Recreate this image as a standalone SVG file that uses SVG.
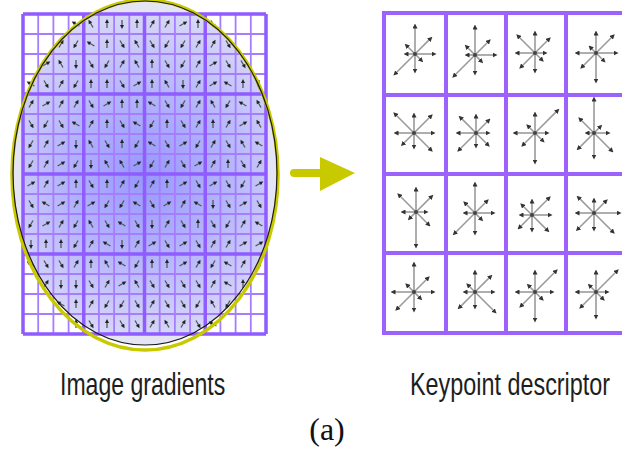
<svg xmlns="http://www.w3.org/2000/svg" xmlns:xlink="http://www.w3.org/1999/xlink" width="622" height="456" viewBox="0 0 622 456">
<style>
.gth{fill:none;stroke:#a77dff;stroke-width:1.8}
.gtk{fill:none;stroke:#8f5cff;stroke-width:3.5}
.rg{fill:none;stroke:#9d62fb;stroke-width:4}
.gs{fill:none;stroke:#555;stroke-width:1.3}
.gh{fill:#222}
.st line{stroke:#9a9a9a;stroke-width:1.6;marker-end:url(#ah)}
.st circle{fill:#444}
.lbl{font-family:"Liberation Sans",Arial,sans-serif;font-size:32px;fill:#1e1e1e}
.cap{font-family:"Liberation Serif","Times New Roman",serif;font-size:32px;fill:#111}
</style>
<defs>
<radialGradient id="rgr" gradientUnits="userSpaceOnUse" cx="145" cy="175" r="160">
<stop offset="0" stop-color="#9797ff"/>
<stop offset="0.5" stop-color="#b3b3fd"/>
<stop offset="1" stop-color="#d6d6f8"/>
</radialGradient>
<clipPath id="ec"><ellipse cx="145" cy="173" rx="132" ry="172"/></clipPath>
<marker id="ah" viewBox="0 0 6 6" refX="3" refY="3" markerWidth="5" markerHeight="5" markerUnits="userSpaceOnUse" orient="auto"><path d="M0,0L6,3L0,6Z" fill="#333"/></marker>
<g id="a0"><path d="M0,4V-2" class="gs"/><path d="M-2,-1L0,-5L2,-1Z" class="gh"/></g>
<g id="a1" transform="rotate(30)"><use href="#a0"/></g>
<g id="a2" transform="rotate(-30)"><use href="#a0"/></g>
<g id="a3" transform="rotate(150)"><use href="#a0"/></g>
<g id="a4" transform="rotate(-150)"><use href="#a0"/></g>
<g id="a5" transform="rotate(60)"><use href="#a0"/></g>
<g id="a6" transform="rotate(-60)"><use href="#a0"/></g>
<g id="a7" transform="rotate(180)"><use href="#a0"/></g>
</defs>
<rect width="622" height="456" fill="#fff"/>

<g id="image-gradients">
<ellipse cx="145" cy="173" rx="132" ry="172" fill="#e4e4f5"/>
<rect x="23" y="14" width="243" height="320" fill="url(#rgr)" clip-path="url(#ec)"/>
<path class="gth" d="M38.2,14V334M53.4,14V334M68.6,14V334M98.9,14V334M114.1,14V334M129.3,14V334M159.7,14V334M174.9,14V334M190.1,14V334M220.4,14V334M235.6,14V334M250.8,14V334M23,34H266M23,54H266M23,74H266M23,114H266M23,134H266M23,154H266M23,194H266M23,214H266M23,234H266M23,274H266M23,294H266M23,314H266"/>
<path class="gtk" d="M23,14V334M83.75,14V334M144.5,14V334M205.25,14V334M266,14V334M23,14H266M23,94H266M23,174H266M23,254H266M23,334H266"/>
<g id="grad-arrows">
<g transform="translate(0,24)"><use href="#a6" x="76"/><use href="#a2" x="91"/><use href="#a0" x="107"/><use href="#a7" x="122"/><use href="#a0" x="137"/><use href="#a1" x="152"/><use href="#a1" x="167"/><use href="#a5" x="183"/><use href="#a0" x="198"/><use href="#a3" x="213"/></g>
<g transform="translate(0,44)"><use href="#a1" x="61"/><use href="#a4" x="76"/><use href="#a6" x="91"/><use href="#a0" x="107"/><use href="#a3" x="122"/><use href="#a2" x="137"/><use href="#a3" x="152"/><use href="#a4" x="167"/><use href="#a4" x="183"/><use href="#a1" x="198"/><use href="#a1" x="213"/><use href="#a3" x="228"/></g>
<g transform="translate(0,64)"><use href="#a5" x="46"/><use href="#a2" x="61"/><use href="#a7" x="76"/><use href="#a3" x="91"/><use href="#a4" x="107"/><use href="#a1" x="122"/><use href="#a2" x="137"/><use href="#a0" x="152"/><use href="#a3" x="167"/><use href="#a4" x="183"/><use href="#a1" x="198"/><use href="#a5" x="213"/><use href="#a3" x="228"/><use href="#a3" x="243"/></g>
<g transform="translate(0,84)"><use href="#a6" x="31"/><use href="#a3" x="46"/><use href="#a1" x="61"/><use href="#a4" x="76"/><use href="#a0" x="91"/><use href="#a0" x="107"/><use href="#a3" x="122"/><use href="#a5" x="137"/><use href="#a0" x="152"/><use href="#a2" x="167"/><use href="#a7" x="183"/><use href="#a1" x="198"/><use href="#a5" x="213"/><use href="#a6" x="228"/><use href="#a0" x="243"/><use href="#a7" x="259"/></g>
<g transform="translate(0,104)"><use href="#a1" x="31"/><use href="#a5" x="46"/><use href="#a1" x="61"/><use href="#a1" x="76"/><use href="#a3" x="91"/><use href="#a5" x="107"/><use href="#a0" x="122"/><use href="#a0" x="137"/><use href="#a6" x="152"/><use href="#a3" x="167"/><use href="#a4" x="183"/><use href="#a1" x="198"/><use href="#a2" x="213"/><use href="#a4" x="228"/><use href="#a6" x="243"/><use href="#a2" x="259"/></g>
<g transform="translate(0,124)"><use href="#a3" x="31"/><use href="#a4" x="46"/><use href="#a3" x="61"/><use href="#a6" x="76"/><use href="#a1" x="91"/><use href="#a0" x="107"/><use href="#a3" x="122"/><use href="#a6" x="137"/><use href="#a4" x="152"/><use href="#a0" x="167"/><use href="#a3" x="183"/><use href="#a1" x="198"/><use href="#a0" x="213"/><use href="#a1" x="228"/><use href="#a5" x="243"/><use href="#a2" x="259"/></g>
<g transform="translate(0,144)"><use href="#a4" x="31"/><use href="#a1" x="46"/><use href="#a5" x="61"/><use href="#a7" x="76"/><use href="#a2" x="91"/><use href="#a3" x="107"/><use href="#a0" x="122"/><use href="#a4" x="137"/><use href="#a6" x="152"/><use href="#a3" x="167"/><use href="#a5" x="183"/><use href="#a4" x="198"/><use href="#a1" x="213"/><use href="#a3" x="228"/><use href="#a2" x="243"/><use href="#a6" x="259"/></g>
<g transform="translate(0,164)"><use href="#a4" x="31"/><use href="#a1" x="46"/><use href="#a5" x="61"/><use href="#a4" x="76"/><use href="#a7" x="91"/><use href="#a2" x="107"/><use href="#a2" x="122"/><use href="#a5" x="137"/><use href="#a4" x="152"/><use href="#a1" x="167"/><use href="#a3" x="183"/><use href="#a5" x="198"/><use href="#a1" x="213"/><use href="#a0" x="228"/><use href="#a3" x="243"/><use href="#a1" x="259"/></g>
<g transform="translate(0,184)"><use href="#a5" x="31"/><use href="#a1" x="46"/><use href="#a5" x="61"/><use href="#a0" x="76"/><use href="#a3" x="91"/><use href="#a0" x="107"/><use href="#a1" x="122"/><use href="#a4" x="137"/><use href="#a1" x="152"/><use href="#a0" x="167"/><use href="#a5" x="183"/><use href="#a3" x="198"/><use href="#a5" x="213"/><use href="#a3" x="228"/><use href="#a4" x="243"/><use href="#a5" x="259"/></g>
<g transform="translate(0,204)"><use href="#a3" x="31"/><use href="#a6" x="46"/><use href="#a5" x="61"/><use href="#a1" x="76"/><use href="#a5" x="91"/><use href="#a4" x="107"/><use href="#a4" x="122"/><use href="#a6" x="137"/><use href="#a3" x="152"/><use href="#a5" x="167"/><use href="#a1" x="183"/><use href="#a6" x="198"/><use href="#a7" x="213"/><use href="#a3" x="228"/><use href="#a5" x="243"/><use href="#a3" x="259"/></g>
<g transform="translate(0,224)"><use href="#a4" x="31"/><use href="#a5" x="46"/><use href="#a1" x="61"/><use href="#a4" x="76"/><use href="#a2" x="91"/><use href="#a3" x="107"/><use href="#a6" x="122"/><use href="#a3" x="137"/><use href="#a7" x="152"/><use href="#a1" x="167"/><use href="#a3" x="183"/><use href="#a0" x="198"/><use href="#a3" x="213"/><use href="#a4" x="228"/><use href="#a1" x="243"/><use href="#a6" x="259"/></g>
<g transform="translate(0,244)"><use href="#a7" x="31"/><use href="#a0" x="46"/><use href="#a0" x="61"/><use href="#a4" x="76"/><use href="#a1" x="91"/><use href="#a6" x="107"/><use href="#a7" x="122"/><use href="#a1" x="137"/><use href="#a5" x="152"/><use href="#a3" x="167"/><use href="#a5" x="183"/><use href="#a3" x="198"/><use href="#a1" x="213"/><use href="#a1" x="228"/><use href="#a5" x="243"/><use href="#a5" x="259"/></g>
<g transform="translate(0,264)"><use href="#a6" x="31"/><use href="#a3" x="46"/><use href="#a3" x="61"/><use href="#a1" x="76"/><use href="#a0" x="91"/><use href="#a2" x="107"/><use href="#a6" x="122"/><use href="#a4" x="137"/><use href="#a0" x="152"/><use href="#a0" x="167"/><use href="#a5" x="183"/><use href="#a1" x="198"/><use href="#a4" x="213"/><use href="#a6" x="228"/><use href="#a1" x="243"/><use href="#a7" x="259"/></g>
<g transform="translate(0,284)"><use href="#a1" x="46"/><use href="#a7" x="61"/><use href="#a7" x="76"/><use href="#a3" x="91"/><use href="#a1" x="107"/><use href="#a5" x="122"/><use href="#a2" x="137"/><use href="#a3" x="152"/><use href="#a3" x="167"/><use href="#a3" x="183"/><use href="#a3" x="198"/><use href="#a1" x="213"/><use href="#a6" x="228"/><use href="#a0" x="243"/></g>
<g transform="translate(0,304)"><use href="#a6" x="61"/><use href="#a0" x="76"/><use href="#a1" x="91"/><use href="#a4" x="107"/><use href="#a4" x="122"/><use href="#a3" x="137"/><use href="#a1" x="152"/><use href="#a3" x="167"/><use href="#a3" x="183"/><use href="#a4" x="198"/><use href="#a2" x="213"/><use href="#a4" x="228"/></g>
<g transform="translate(0,324)"><use href="#a0" x="76"/><use href="#a3" x="91"/><use href="#a0" x="107"/><use href="#a3" x="122"/><use href="#a3" x="137"/><use href="#a1" x="152"/><use href="#a2" x="167"/><use href="#a1" x="183"/><use href="#a3" x="198"/><use href="#a6" x="213"/></g>
</g>
<ellipse cx="145" cy="175" rx="133" ry="175" fill="none" stroke="#c9c900" stroke-width="3.5"/>
<ellipse cx="145" cy="173" rx="132" ry="172" fill="none" stroke="#1a1a1a" stroke-width="1.2"/>
</g>

<g id="connectors">
<path d="M294,169H322V177H294A4,4 0 0 1 294,169Z" fill="#c9c900"/>
<path d="M320,157L355,173L320,191Z" fill="#c9c900"/>
</g>

<g id="keypoint-descriptor">
<path class="rg" d="M384,13V333M446,13V333M506,13V333M566,13V333M626,13V333M382,13H630M382,95H630M382,174H630M382,253H630M382,333H630"/>
<g class="st" transform="translate(415,54)"><line x2="19" y2="0"/><line x2="15.6" y2="-15.6"/><line x2="0" y2="-28"/><line x2="-8.5" y2="-8.5"/><line x2="-9" y2="0"/><line x2="-19.8" y2="19.8"/><line x2="0" y2="17"/><line x2="6.4" y2="6.4"/><circle r="2"/></g>
<g class="st" transform="translate(475,55)"><line x2="20" y2="0"/><line x2="14" y2="-14"/><line x2="0" y2="-28"/><line x2="-8.5" y2="-8.5"/><line x2="-8" y2="0"/><line x2="-21" y2="21"/><line x2="0" y2="18"/><line x2="6.4" y2="6.4"/><circle r="2"/></g>
<g class="st" transform="translate(535,53)"><line x2="10" y2="0"/><line x2="14" y2="-14"/><line x2="0" y2="-20"/><line x2="-17" y2="-17"/><line x2="-18" y2="0"/><line x2="-14" y2="14"/><line x2="0" y2="18"/><line x2="7" y2="7"/><circle r="2"/></g>
<g class="st" transform="translate(596,53)"><line x2="20" y2="0"/><line x2="17" y2="-17"/><line x2="0" y2="-20"/><line x2="-5.7" y2="-5.7"/><line x2="-19" y2="0"/><line x2="-14" y2="14"/><line x2="0" y2="28"/><line x2="7.8" y2="7.8"/><circle r="2"/></g>
<g class="st" transform="translate(414,133)"><line x2="19" y2="0"/><line x2="17" y2="-17"/><line x2="0" y2="-18"/><line x2="-19" y2="-19"/><line x2="-18" y2="0"/><line x2="-11.3" y2="11.3"/><line x2="0" y2="14"/><line x2="17" y2="17"/><circle r="2"/></g>
<g class="st" transform="translate(476,133)"><line x2="12" y2="0"/><line x2="12.7" y2="-12.7"/><line x2="0" y2="-17"/><line x2="-15.6" y2="-15.6"/><line x2="-18" y2="0"/><line x2="-17" y2="17"/><line x2="0" y2="13"/><line x2="12" y2="12"/><circle r="2"/></g>
<g class="st" transform="translate(535,133)"><line x2="12" y2="0"/><line x2="22.6" y2="-22.6"/><line x2="0" y2="-19"/><line x2="-7" y2="-7"/><line x2="-20" y2="0"/><line x2="-12" y2="12"/><line x2="0" y2="29"/><line x2="7.8" y2="7.8"/><circle r="2"/></g>
<g class="st" transform="translate(594,133)"><line x2="14" y2="0"/><line x2="6.4" y2="-6.4"/><line x2="0" y2="-34"/><line x2="-14" y2="-14"/><line x2="-7" y2="0"/><line x2="-15.6" y2="15.6"/><line x2="0" y2="24"/><line x2="17.7" y2="17.7"/><circle r="2"/></g>
<g class="st" transform="translate(416,212)"><line x2="10" y2="0"/><line x2="15.6" y2="-15.6"/><line x2="0" y2="-23"/><line x2="-17" y2="-17"/><line x2="-13" y2="0"/><line x2="-6.4" y2="6.4"/><line x2="0" y2="34"/><line x2="12.7" y2="12.7"/><circle r="2"/></g>
<g class="st" transform="translate(475,213)"><line x2="18" y2="0"/><line x2="12" y2="-12"/><line x2="0" y2="-29"/><line x2="-10" y2="-10"/><line x2="-10" y2="0"/><line x2="-20.5" y2="20.5"/><line x2="0" y2="20"/><line x2="6.4" y2="6.4"/><circle r="2"/></g>
<g class="st" transform="translate(532,215)"><line x2="18" y2="0"/><line x2="17" y2="-17"/><line x2="0" y2="-14"/><line x2="-10" y2="-10"/><line x2="-11" y2="0"/><line x2="-12.7" y2="12.7"/><line x2="0" y2="15"/><line x2="15.6" y2="15.6"/><circle r="2"/></g>
<g class="st" transform="translate(594,213)"><line x2="25" y2="0"/><line x2="12" y2="-12"/><line x2="0" y2="-13"/><line x2="-15.6" y2="-15.6"/><line x2="-17" y2="0"/><line x2="-16.3" y2="16.3"/><line x2="0" y2="16"/><line x2="19" y2="19"/><circle r="2"/></g>
<g class="st" transform="translate(414,292)"><line x2="19" y2="0"/><line x2="14" y2="-14"/><line x2="0" y2="-28"/><line x2="-7" y2="-7"/><line x2="-21" y2="0"/><line x2="-17" y2="17"/><line x2="0" y2="18"/><line x2="6.4" y2="6.4"/><circle r="2"/></g>
<g class="st" transform="translate(475,292)"><line x2="18" y2="0"/><line x2="15.6" y2="-15.6"/><line x2="0" y2="-20"/><line x2="-7" y2="-7"/><line x2="-10" y2="0"/><line x2="-15.6" y2="15.6"/><line x2="0" y2="15"/><line x2="19.8" y2="19.8"/><circle r="2"/></g>
<g class="st" transform="translate(535,292)"><line x2="17" y2="0"/><line x2="21" y2="-21"/><line x2="0" y2="-20"/><line x2="-6.4" y2="-6.4"/><line x2="-18" y2="0"/><line x2="-14" y2="14"/><line x2="0" y2="28"/><line x2="7" y2="7"/><circle r="2"/></g>
<g class="st" transform="translate(596,292)"><line x2="11" y2="0"/><line x2="21" y2="-21"/><line x2="0" y2="-20"/><line x2="-6.4" y2="-6.4"/><line x2="-19" y2="0"/><line x2="-15" y2="15"/><line x2="0" y2="25"/><line x2="7" y2="7"/><circle r="2"/></g>
</g>

<g id="labels">
<text class="lbl" transform="translate(60,395) scale(0.725,1)" textLength="228" lengthAdjust="spacingAndGlyphs">Image gradients</text>
<text class="lbl" transform="translate(410,395) scale(0.725,1)" textLength="276" lengthAdjust="spacingAndGlyphs">Keypoint descriptor</text>
<text class="cap" x="327" y="440" text-anchor="middle">(a)</text>
</g>
</svg>
